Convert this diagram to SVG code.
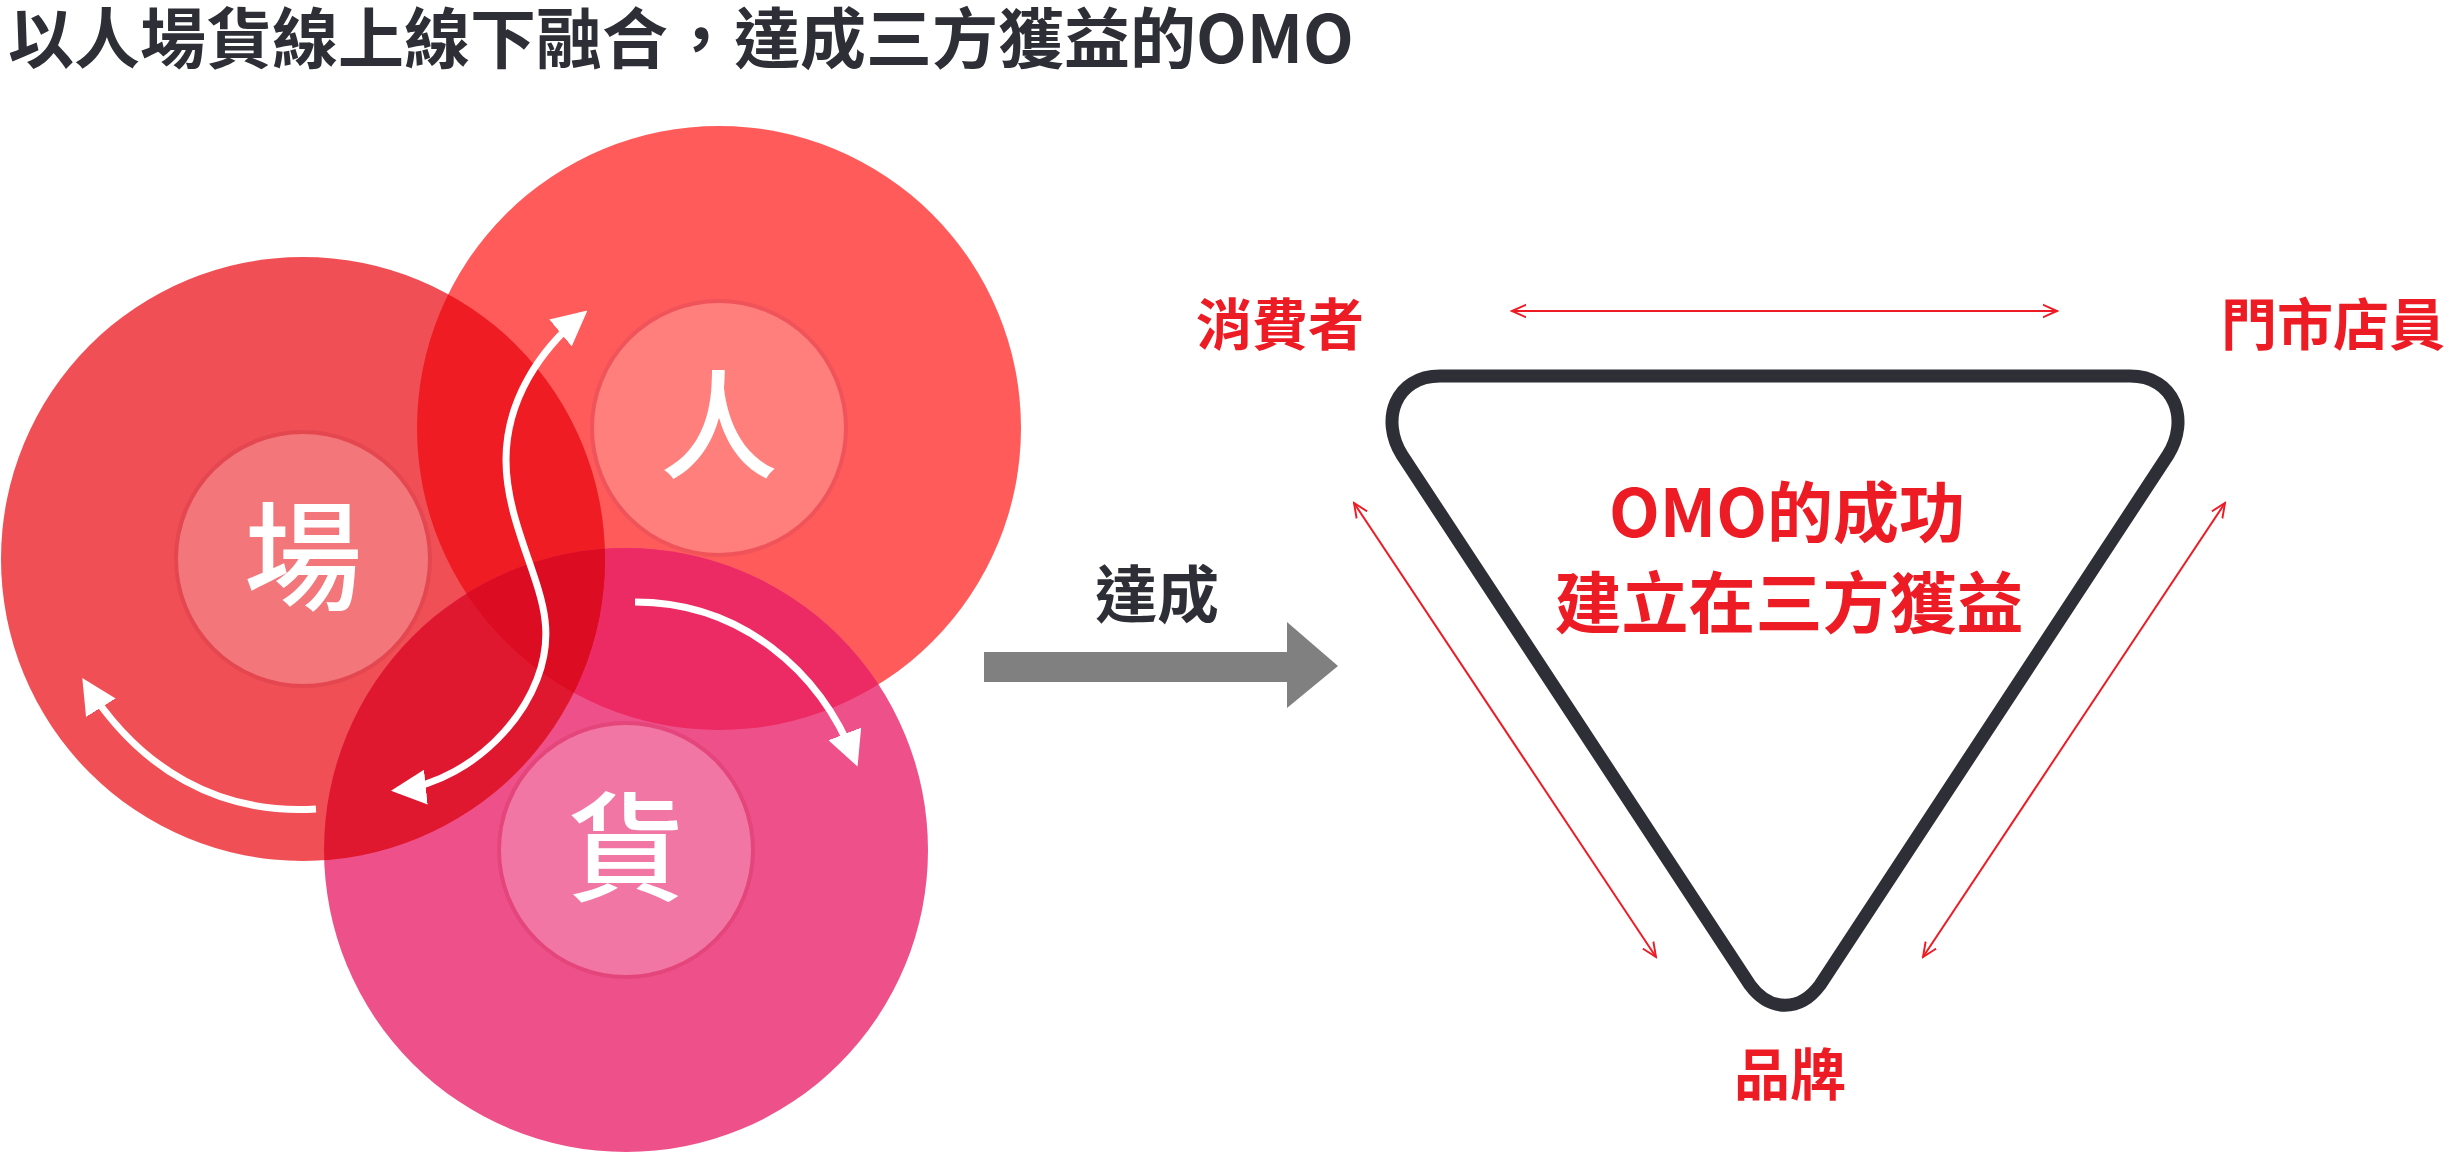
<svg xmlns="http://www.w3.org/2000/svg" width="2452" height="1157" viewBox="0 0 2452 1157">
<style>
.cjk{font-family:"Noto Sans CJK TC","Noto Sans CJK SC",sans-serif;font-weight:700}
.red{fill:#ED1C24}
.big{fill:#fff;font-size:118px;font-weight:500;text-anchor:middle;font-family:"Noto Sans CJK TC",sans-serif}
.warr{fill:none;stroke:#fff;stroke-width:7}
.rl{fill:none;stroke:#ED1C24;stroke-width:2}
.inner{stroke-width:4}
</style>
<defs>
<marker id="wh" viewBox="0 0 10 10" refX="8" refY="5" markerWidth="5" markerHeight="5" orient="auto-start-reverse" markerUnits="strokeWidth"><path d="M0,0 L10,5 L0,10 Z" fill="#fff"/></marker>
<marker id="rh" viewBox="0 0 10 10" refX="9" refY="5" markerWidth="8" markerHeight="8" orient="auto-start-reverse" markerUnits="strokeWidth"><path d="M0,1 L9,5 L0,9" fill="none" stroke="#ED1C24" stroke-width="1.2"/></marker>
<clipPath id="cC"><circle cx="303" cy="559" r="302"/></clipPath>
<clipPath id="cP"><circle cx="719" cy="428" r="302"/></clipPath>
<clipPath id="cG"><circle cx="626" cy="850" r="302"/></clipPath>
</defs>
<text class="cjk" x="8" y="63" font-size="66" fill="#2E2E36">以人場貨線上線下融合，達成三方獲益的OMO</text>
<g id="circles">
<circle cx="719" cy="428" r="302" fill="#FF5B5B"/>
<circle cx="303" cy="559" r="302" fill="#F04F55"/>
<circle cx="626" cy="850" r="302" fill="#EE5189"/>
<circle cx="719" cy="428" r="302" fill="#EF1C23" clip-path="url(#cC)"/>
<g clip-path="url(#cG)"><circle cx="719" cy="428" r="302" fill="#EC2A63"/><circle cx="303" cy="559" r="302" fill="#DF1830"/></g>
<g clip-path="url(#cG)"><g clip-path="url(#cP)"><circle cx="303" cy="559" r="302" fill="#DC0C22"/></g></g>
</g>
<g id="node-chang"><circle class="inner" cx="303" cy="559" r="127" fill="#F2767A" stroke="#E4474F"/><text class="big" x="303" y="601">場</text></g>
<g id="node-ren"><circle class="inner" cx="719" cy="428" r="127" fill="#FF7F7C" stroke="#F0545A"/><text class="big" x="719" y="470">人</text></g>
<g id="node-huo"><circle class="inner" cx="626" cy="850" r="127" fill="#F276A3" stroke="#E4457A"/><text class="big" x="626" y="892">貨</text></g>
<g id="white-arrows">
<path class="warr" marker-start="url(#wh)" marker-end="url(#wh)" d="M398,790 C475,782 555,700 545,620 C540,575 506,520 506,460 C506,400 540,350 582,315"/>
<path class="warr" marker-end="url(#wh)" d="M635,602 C740,602 820,670 855,760"/>
<path class="warr" marker-end="url(#wh)" d="M316,809 C220,815 140,770 86,684"/>
</g>
<g id="arrow-gray"><polygon points="984,652 1287,652 1287,622 1338,666 1287,708 1287,682 984,682" fill="#808080"/><text class="cjk" x="1157" y="618" font-size="62" fill="#2E2E36" text-anchor="middle">達成</text></g>
<g id="triangle"><path d="M1440,376 H2130 C2175,376 2190,420 2168,455 L1820,985 C1800,1012 1770,1012 1750,985 L1402,455 C1380,420 1395,376 1440,376 Z" fill="none" stroke="#2E2E36" stroke-width="13"/>
<text class="cjk red" x="1787" y="537" font-size="66" text-anchor="middle">OMO的成功</text>
<text class="cjk red" x="1789" y="628" font-size="67" text-anchor="middle">建立在三方獲益</text></g>
<g id="node-consumer"><text class="cjk red" x="1196" y="345" font-size="56">消費者</text></g>
<g id="node-staff"><text class="cjk red" x="2221" y="345" font-size="56">門市店員</text></g>
<g id="node-brand"><text class="cjk red" x="1790" y="1095" font-size="56" text-anchor="middle">品牌</text></g>
<g id="connectors">
<line class="rl" x1="1512" y1="311" x2="2057" y2="311" marker-start="url(#rh)" marker-end="url(#rh)"/>
<line class="rl" x1="1354" y1="503" x2="1656" y2="957" marker-start="url(#rh)" marker-end="url(#rh)"/>
<line class="rl" x1="2225" y1="503" x2="1923" y2="957" marker-start="url(#rh)" marker-end="url(#rh)"/>
</g>
</svg>
